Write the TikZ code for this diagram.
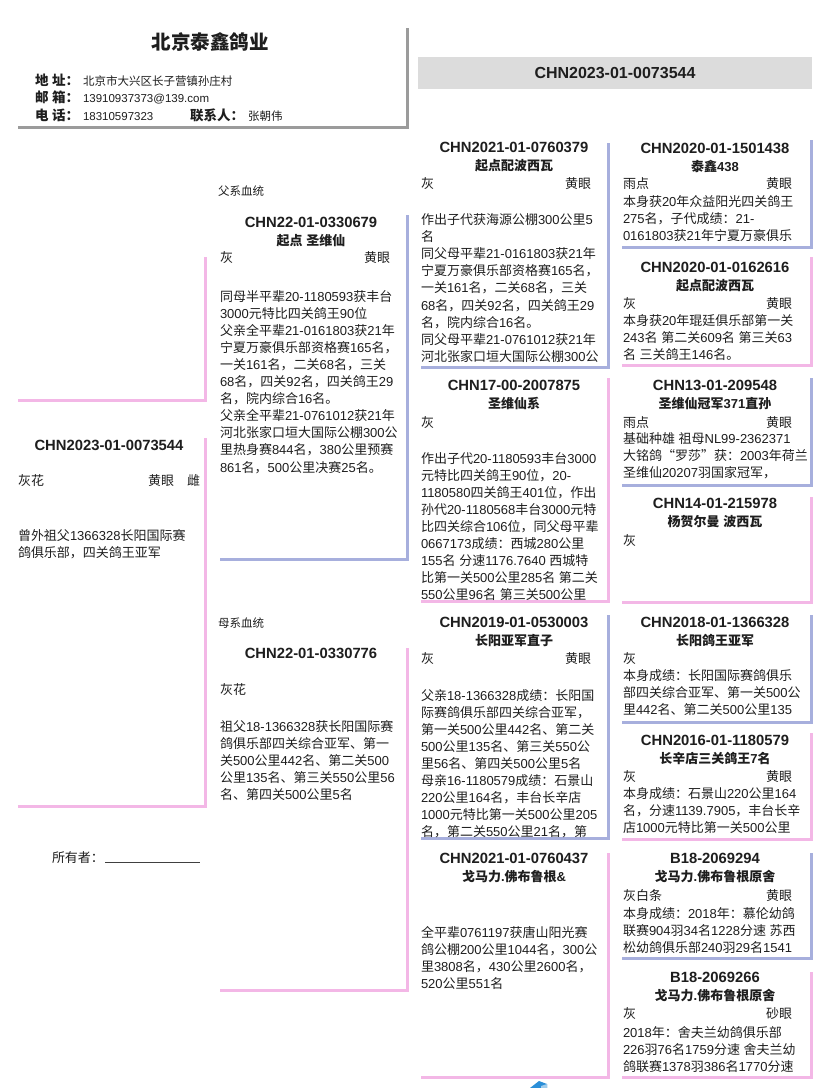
\documentclass[tikz,border=0pt]{standalone}
\usepackage{fontspec}
\setmainfont{Liberation Sans}
\newfontfamily\cjkf{Noto Sans CJK SC}
\XeTeXinterchartokenstate=1
\chardef\CJKcls=7
\newcount\ccnt
\ccnt="4E00
\loop\XeTeXcharclass\ccnt=\CJKcls\ifnum\ccnt<"9FFF\advance\ccnt by 1\repeat
\ccnt="3000
\loop\XeTeXcharclass\ccnt=\CJKcls\ifnum\ccnt<"303F\advance\ccnt by 1\repeat
\ccnt="FF00
\loop\XeTeXcharclass\ccnt=\CJKcls\ifnum\ccnt<"FFEF\advance\ccnt by 1\repeat
\XeTeXcharclass"201C=\CJKcls
\XeTeXcharclass"201D=\CJKcls
\XeTeXinterchartoks 0 \CJKcls = {\cjkf}
\XeTeXinterchartoks 4095 \CJKcls = {\cjkf}
\XeTeXinterchartoks \CJKcls 0 = {\rmfamily}
\XeTeXinterchartoks \CJKcls 4095 = {\rmfamily}

\definecolor{blueb}{HTML}{A7AFDD}
\definecolor{pinkb}{HTML}{F3B7E6}
\definecolor{hdrgray}{HTML}{9B9B9B}
\definecolor{hdrfill}{HTML}{DCDCDC}
\definecolor{txt}{HTML}{1E1E1E}
\definecolor{logob}{HTML}{2B8FD8}

\tikzset{
  tl/.style={font=\bfseries\fontsize{14.8}{16}\selectfont, anchor=base},
  st/.style={font=\bfseries\fontsize{13}{16}\selectfont, anchor=base},
  bt/.style={font=\fontsize{13}{16}\selectfont, anchor=base west},
  be/.style={font=\fontsize{13}{16}\selectfont, anchor=base east},
  lab/.style={font=\bfseries\fontsize{13.5}{16}\selectfont, anchor=base west},
  val/.style={font=\fontsize{11.5}{14}\selectfont, anchor=base west},
  bluel/.style={draw=blueb, line width=3pt},
  pinkl/.style={draw=pinkb, line width=3pt},
  hdrl/.style={draw=hdrgray, line width=3pt},
}
\newcommand\lns[4]{%
  \foreach \mytxt [count=\i from 0] in {#4}{\node[bt] (#1-\i) at ({#2},{#3+\i*17.1}) {\mytxt};}}
\newcommand\pbox[6]{%
  \node[minimum width={#4-#2}, minimum height={#5-#3}, anchor=north west] (#1) at (#2,#3) {};
  \draw[#6] (#1.north east) -- (#1.south east) -- (#1.south west);}
\newcommand\ttl[5]{%
  \node[tl] (#1-t) at (#2,#3) {#4};
  \node[st] (#1-s) at (#2,#3+18) {#5};}

\begin{document}
\begin{tikzpicture}[x=1pt,y=-1pt, every node/.style={inner sep=0pt, outer sep=0pt, text=txt}]
\useasboundingbox (0,0) rectangle (828,1088);
\fill[white] (0,0) rectangle (828,1088);

% ---------- header ----------
\pbox{hdr}{18}{28}{407}{127}{hdrl}
\node[font=\bfseries\fontsize{19.5}{22}\selectfont, anchor=base] (brand) at (210,49.5) {北京泰鑫鸽业};
\node[lab] (addrL) at (35,85) {地 址：};
\node[val] (addrV) at (83,85) {北京市大兴区长子营镇孙庄村};
\node[lab] (mailL) at (35,102) {邮 箱：};
\node[val] (mailV) at (83,102) {13910937373@139.com};
\node[lab] (telL) at (35,120) {电 话：};
\node[val] (telV) at (83,120) {18310597323};
\node[lab] (conL) at (190,120) {联系人：};
\node[val] (conV) at (248,120) {张朝伟};

\node[fill=hdrfill, minimum width=394, minimum height=32, anchor=north west] (hdr2) at (418,57) {};
\node[font=\bfseries\fontsize{16}{18}\selectfont, anchor=base] (hdr2t) at (615,78.8) {CHN2023-01-0073544};

% ---------- column 1 ----------
\pbox{bA}{18}{257}{205}{400}{pinkl}
\pbox{bS}{18}{438}{205}{806}{pinkl}
\node[tl] (s-t) at (109,450) {CHN2023-01-0073544};
\node[bt] (s-c) at (18,485) {灰花};
\node[bt] (s-e) at (148,485) {黄眼};
\node[bt] (s-x) at (187,485) {雌};
\lns{s}{18}{540}{曾外祖父1366328长阳国际赛, 鸽俱乐部，四关鸽王亚军}
\node[bt] (owner) at (52,862) {所有者：};
\coordinate (ulA) at (105,862);
\coordinate (ulB) at (200,862);
\draw[black!75, line width=0.9pt] (ulA) -- (ulB);

% ---------- column 2 ----------
\node[val] (fxl) at (218,195) {父系血统};
\pbox{bF}{220}{215}{407}{559}{bluel}
\ttl{f}{311}{227}{CHN22-01-0330679}{起点 圣维仙}
\node[bt] (f-c) at (220,262) {灰};
\node[be] (f-e) at (390,262) {黄眼};
\lns{f}{220}{301}{同母半平辈20-1180593获丰台, 3000元特比四关鸽王90位, 父亲全平辈21-0161803获21年, 宁夏万豪俱乐部资格赛165名，, 一关161名，二关68名，三关, 68名，四关92名，四关鸽王29, 名，院内综合16名。, 父亲全平辈21-0761012获21年, 河北张家口垣大国际公棚300公, 里热身赛844名，380公里预赛, 861名，500公里决赛25名。}

\node[val] (mxl) at (218,627) {母系血统};
\pbox{bM}{220}{648}{407}{990}{pinkl}
\node[tl] (m-t) at (311,658) {CHN22-01-0330776};
\node[bt] (m-c) at (220,694) {灰花};
\lns{m}{220}{731}{祖父18-1366328获长阳国际赛, 鸽俱乐部四关综合亚军、第一, 关500公里442名、第二关500, 公里135名、第三关550公里56, 名、第四关500公里5名}

% ---------- column 3 ----------
\pbox{b1}{421}{143}{608}{367}{bluel}
\ttl{b1}{514}{152}{CHN2021-01-0760379}{起点配波西瓦}
\node[bt] (b1-c) at (421,188) {灰};
\node[be] (b1-e) at (591,188) {黄眼};
\lns{b1}{421}{224.5}{作出子代获海源公棚300公里5, 名, 同父母平辈21-0161803获21年, 宁夏万豪俱乐部资格赛165名，, 一关161名，二关68名，三关, 68名，四关92名，四关鸽王29, 名，院内综合16名。, 同父母平辈21-0761012获21年, 河北张家口垣大国际公棚300公}

\pbox{b2}{421}{378}{608}{601}{pinkl}
\ttl{b2}{514}{390}{CHN17-00-2007875}{圣维仙系}
\node[bt] (b2-c) at (421,427) {灰};
\lns{b2}{421}{463}{作出子代20-1180593丰台3000, 元特比四关鸽王90位，20-, 1180580四关鸽王401位，作出, 孙代20-1180568丰台3000元特, 比四关综合106位，同父母平辈, 0667173成绩：西城280公里, 155名 分速1176.7640 西城特, 比第一关500公里285名 第二关, 550公里96名 第三关500公里}

\pbox{b3}{421}{615}{608}{838}{bluel}
\ttl{b3}{514}{627}{CHN2019-01-0530003}{长阳亚军直子}
\node[bt] (b3-c) at (421,663) {灰};
\node[be] (b3-e) at (591,663) {黄眼};
\lns{b3}{421}{700}{父亲18-1366328成绩：长阳国, 际赛鸽俱乐部四关综合亚军，, 第一关500公里442名、第二关, 500公里135名、第三关550公, 里56名、第四关500公里5名, 母亲16-1180579成绩：石景山, 220公里164名，丰台长辛店, 1000元特比第一关500公里205, 名，第二关550公里21名，第}

\pbox{b4}{421}{853}{608}{1077}{pinkl}
\ttl{b4}{514}{863}{CHN2021-01-0760437}{戈马力.佛布鲁根\&}
\lns{b4}{421}{937}{全平辈0761197获唐山阳光赛, 鸽公棚200公里1044名，300公, 里3808名，430公里2600名，, 520公里551名}

% ---------- column 4 ----------
\pbox{c1}{622}{140}{811}{247}{bluel}
\ttl{c1}{715}{153}{CHN2020-01-1501438}{泰鑫438}
\node[bt] (c1-c) at (623,188) {雨点};
\node[be] (c1-e) at (792,188) {黄眼};
\lns{c1}{623}{206}{本身获20年众益阳光四关鸽王, 275名，子代成绩：21-, 0161803获21年宁夏万豪俱乐}

\pbox{c2}{622}{257}{811}{365}{pinkl}
\ttl{c2}{715}{272}{CHN2020-01-0162616}{起点配波西瓦}
\node[bt] (c2-c) at (623,308) {灰};
\node[be] (c2-e) at (792,308) {黄眼};
\lns{c2}{623}{325}{本身获20年琨廷俱乐部第一关, 243名 第二关609名 第三关63, 名 三关鸽王146名。}

\pbox{c3}{622}{378}{811}{485}{bluel}
\ttl{c3}{715}{390}{CHN13-01-209548}{圣维仙冠军371直孙}
\node[bt] (c3-c) at (623,427) {雨点};
\node[be] (c3-e) at (792,427) {黄眼};
\lns{c3}{623}{443.5}{基础种雄 祖母NL99-2362371, 大铭鸽“罗莎”获：2003年荷兰, 圣维仙20207羽国家冠军，}

\pbox{c4}{622}{497}{811}{602}{pinkl}
\ttl{c4}{715}{508}{CHN14-01-215978}{杨贺尔曼 波西瓦}
\node[bt] (c4-c) at (623,545) {灰};

\pbox{c5}{622}{615}{811}{722}{bluel}
\ttl{c5}{715}{627}{CHN2018-01-1366328}{长阳鸽王亚军}
\node[bt] (c5-c) at (623,663) {灰};
\lns{c5}{623}{680}{本身成绩：长阳国际赛鸽俱乐, 部四关综合亚军、第一关500公, 里442名、第二关500公里135}

\pbox{c6}{622}{733}{811}{839}{pinkl}
\ttl{c6}{715}{745}{CHN2016-01-1180579}{长辛店三关鸽王7名}
\node[bt] (c6-c) at (623,781) {灰};
\node[be] (c6-e) at (792,781) {黄眼};
\lns{c6}{623}{798}{本身成绩：石景山220公里164, 名，分速1139.7905，丰台长辛, 店1000元特比第一关500公里}

\pbox{c7}{622}{853}{811}{958}{bluel}
\ttl{c7}{715}{863}{B18-2069294}{戈马力.佛布鲁根原舍}
\node[bt] (c7-c) at (623,900) {灰白条};
\node[be] (c7-e) at (792,900) {黄眼};
\lns{c7}{623}{918}{本身成绩：2018年：慕伦幼鸽, 联赛904羽34名1228分速 苏西, 松幼鸽俱乐部240羽29名1541}

\pbox{c8}{622}{972}{811}{1077}{pinkl}
\ttl{c8}{715}{982}{B18-2069266}{戈马力.佛布鲁根原舍}
\node[bt] (c8-c) at (623,1018) {灰};
\node[be] (c8-e) at (792,1018) {砂眼};
\lns{c8}{623}{1037}{2018年：舍夫兰幼鸽俱乐部, 226羽76名1759分速 舍夫兰幼, 鸽联赛1378羽386名1770分速}

% ---------- logo fragment ----------
\fill[logob] (530,1088) -- (539,1081) -- (547,1084) -- (547,1088) -- cycle;
\fill[logob!45] (541,1086) -- (547,1084) -- (547,1088) -- (541,1088) -- cycle;
\end{tikzpicture}
\end{document}
